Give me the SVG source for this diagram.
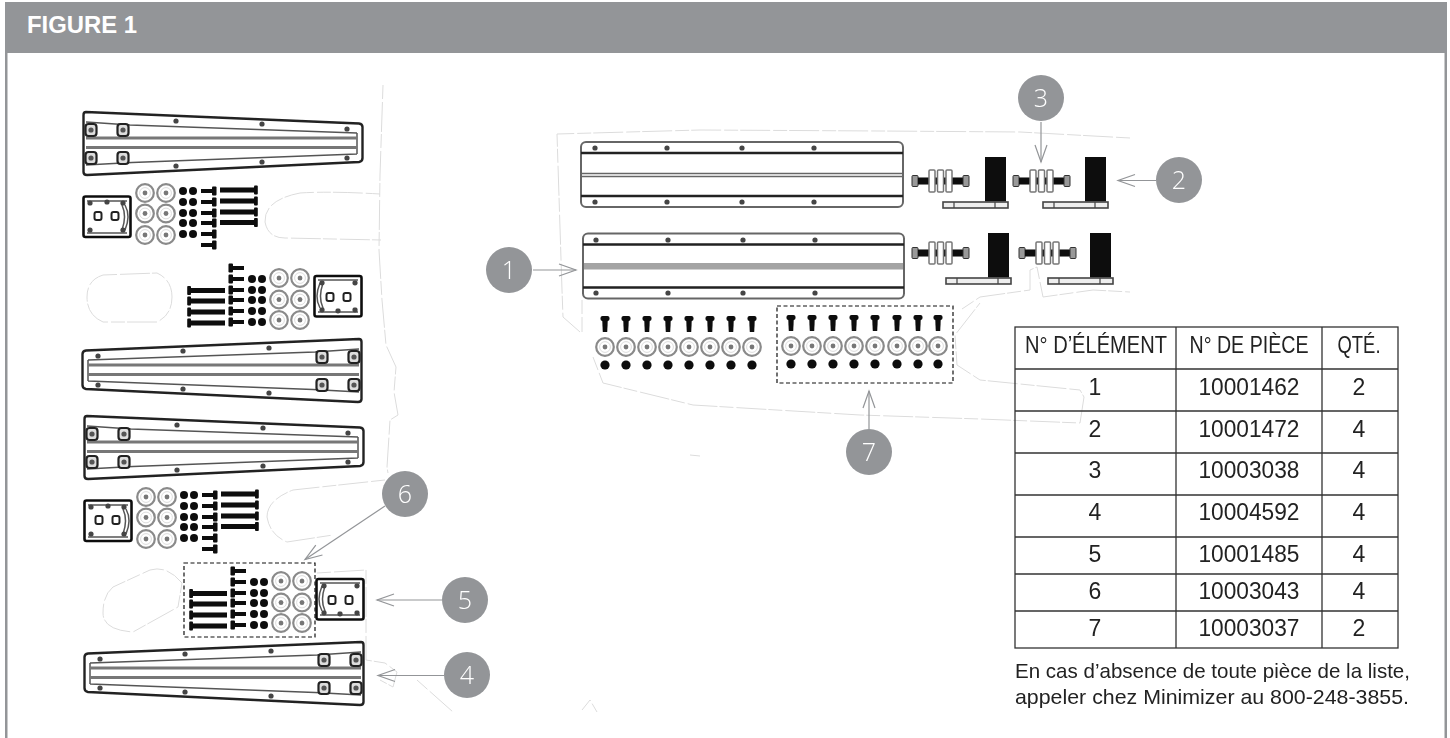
<svg xmlns="http://www.w3.org/2000/svg" width="1450" height="738" viewBox="0 0 1450 738">
<style>
text{font-family:"Liberation Sans",Arial,sans-serif}
.ghost{fill:none;stroke:#dcdcdc;stroke-width:1;stroke-dasharray:14 3 30 2}
.md{fill:none;stroke:#555;stroke-width:1.500}
.blk{fill:#0c0c0c}
.grid{fill:none;stroke:#333;stroke-width:1.300}
.cell{font-size:23px;fill:#222;text-anchor:middle}
.num{font-size:25px;fill:#fff;text-anchor:middle;font-family:"Open Sans","Liberation Sans",sans-serif;font-weight:300}
.bub{fill:#939598}
.arrow{fill:none;stroke:#939598;stroke-width:1.200;marker-end:url(#vee)}
.dash{fill:none;stroke:#111;stroke-width:1.200;stroke-dasharray:4 2.500}
.note{font-size:21px;fill:#222}
</style>
<defs>
<filter id="soft" x="-5%" y="-5%" width="110%" height="110%"><feGaussianBlur stdDeviation="0.6"/></filter>
<marker id="vee" markerUnits="userSpaceOnUse" markerWidth="20" markerHeight="16" refX="18" refY="7" orient="auto"><path d="M1,1 L18,7 L1,13" fill="none" stroke="#939598" stroke-width="1.200"/></marker>
<g id="sq"><rect x="-5.500" y="-6" width="11" height="12" rx="3" fill="#ddd" stroke="#222" stroke-width="2.200"/><circle r="2.600" fill="#555"/></g>
<circle id="scr" r="2.600" fill="#444"/>
<g id="taper">
<path d="M86,112 L359,123.500 Q362.500,124 362.500,127 L362.500,158 Q362.500,161.500 359,162 L87,175 Q83.500,175 83.500,172 L83.500,115 Q83.500,112 86,112 Z" fill="#fff" stroke="#222" stroke-width="2.400"/>
<path class="md" d="M130,125 L357,133 M132,162.500 L357,154 M86,122 L130,125 M86,165 L132,162.500 M357,133 V154"/>
<path d="M86,138 H357 M86,147.500 H357" fill="none" stroke="#777" stroke-width="2.800"/>
<use href="#sq" x="91" y="130"/><use href="#sq" x="123" y="130"/><use href="#sq" x="91" y="158"/><use href="#sq" x="123" y="158"/>
<use href="#scr" x="176" y="121"/><use href="#scr" x="262" y="124"/><use href="#scr" x="347" y="129"/>
<use href="#scr" x="176" y="166"/><use href="#scr" x="262" y="162"/><use href="#scr" x="347" y="158"/>
</g>
<g id="wsh"><circle r="8.800" fill="#fff" stroke="#8a8a8a" stroke-width="2.200"/><circle r="2.400" fill="#777"/><circle r="5.400" fill="none" stroke="#ddd" stroke-width="1"/></g>
<circle id="nut" r="4" class="blk"/>
<g id="sbolt"><rect x="0" y="-2" width="12" height="4" class="blk"/><rect x="11" y="-4.500" width="4.500" height="9" rx="1" class="blk"/></g>
<g id="lbolt"><rect x="0" y="-2.500" width="35" height="5" class="blk"/><rect x="34" y="-4.500" width="3.800" height="9" rx="1" class="blk"/></g>
<g id="kit">
<rect x="83.500" y="196.500" width="47" height="40.500" rx="2" fill="#fff" stroke="#111" stroke-width="2.600"/>
<path class="md" d="M87,201 H127 M87,233 H127"/>
<path class="md" d="M125,205 Q131,216 125,230 M122,205 Q127,216 122,230"/>
<rect x="94.500" y="212" width="7" height="8" rx="2" fill="#fff" stroke="#222" stroke-width="2"/>
<rect x="111.500" y="212" width="7" height="8" rx="2" fill="#fff" stroke="#222" stroke-width="2"/>
<use href="#scr" x="90" y="203"/><use href="#scr" x="107" y="202"/><use href="#scr" x="123" y="203"/><use href="#scr" x="90" y="230"/><use href="#scr" x="123" y="230"/>
<use href="#wsh" x="145" y="193"/><use href="#wsh" x="166" y="193"/><use href="#wsh" x="145" y="213.500"/><use href="#wsh" x="166" y="213.500"/><use href="#wsh" x="145" y="235"/><use href="#wsh" x="166" y="235"/>
<use href="#nut" x="183" y="191"/><use href="#nut" x="193" y="191"/><use href="#nut" x="183" y="202"/><use href="#nut" x="193" y="202"/><use href="#nut" x="183" y="213"/><use href="#nut" x="193" y="213"/><use href="#nut" x="183" y="223"/><use href="#nut" x="193" y="223"/><use href="#nut" x="183" y="234"/><use href="#nut" x="193" y="234"/>
<use href="#sbolt" x="201" y="191"/><use href="#sbolt" x="201" y="202"/><use href="#sbolt" x="201" y="213"/><use href="#sbolt" x="201" y="223"/><use href="#sbolt" x="201" y="234"/><use href="#sbolt" x="201" y="245"/>
<use href="#lbolt" x="220" y="190"/><use href="#lbolt" x="220" y="201"/><use href="#lbolt" x="220" y="212"/><use href="#lbolt" x="220" y="222.500"/>
</g>
<g id="iso">
<rect x="0" y="-5.500" width="6" height="11" rx="1" fill="#999" stroke="#333"/>
<rect x="6" y="-3.500" width="45" height="7" class="blk"/>
<rect x="51" y="-5.500" width="6" height="11" rx="1" fill="#999" stroke="#333"/>
<rect x="17" y="-11" width="6" height="22" rx="1" fill="#fff" stroke="#777" stroke-width="1.500"/>
<rect x="25.500" y="-11" width="6" height="22" rx="1" fill="#fff" stroke="#777" stroke-width="1.500"/>
<rect x="34" y="-11" width="6" height="22" rx="1" fill="#fff" stroke="#777" stroke-width="1.500"/>
</g>
<g id="angle">
<rect x="42" y="0" width="21" height="44.500" class="blk"/>
<rect x="0" y="45" width="65" height="6" fill="#eee" stroke="#444" stroke-width="1.600"/>
<path d="M11,45 V51 M52,45 V51" stroke="#444" stroke-width="1.200"/>
</g>
<g id="fast">
<rect x="-4.500" y="-8" width="9" height="5" rx="2" class="blk"/>
<path d="M-2.800,-4 H2.800 L2.200,8 H-2.200 Z" class="blk"/>
<use href="#wsh" y="23"/>
<circle cy="41" r="4.600" class="blk"/>
</g>
</defs>

<g id="frame">
<rect x="5" y="2" width="1442" height="51" fill="#939598"/>
<rect x="5" y="53" width="2.500" height="685" fill="#939598"/>
<rect x="1444.500" y="53" width="2.500" height="685" fill="#939598"/>
<text x="27" y="33" font-size="23" font-weight="700" fill="#fff" textLength="110" lengthAdjust="spacingAndGlyphs">FIGURE 1</text>
</g>

<g id="ghost-lines" filter="url(#soft)">
<path class="ghost" d="M383,85 L380,175 L379,250 L382,300 L386,345 L396,367 L394,392 L398,415 L390,420 L387,467 L388,473"/>
<path class="ghost" d="M380,194 Q330,191 300,193 Q264,200 265,222 Q268,238 285,238 L381,240"/>
<path class="ghost" d="M103,275 L157,273 Q172,280 172,297 Q172,315 157,322 L103,322 Q87,315 87,297 Q87,280 103,275 Z"/>
<path class="ghost" d="M385,480 L293,490 Q267,500 267,517 Q270,535 287,542 L333,535"/>
<path class="ghost" d="M150,570 Q167,565 182,583 L178,607 L133,632 Q103,630 103,613 Q103,595 113,587 Z"/>
<path class="ghost" d="M317,573 L366,570 V660 L385,663 L397,672 L393,687 L380,680 M417,680 L453,712"/>
<path class="ghost" d="M582,710 L590,700 L597,712 M690,455 L700,456"/>
<path class="ghost" d="M1130,138 L1020,132 L880,131 L700,130 L557,134 L562,290 L563,317 L580,332 M582,300 V332 M593,357 L603,383 L693,405 L860,415 L980,419 L1080,423 L1084,397 L1080,390 L980,380 L957,365 L955,335 L980,303"/>
<path class="ghost" d="M962,309 L980,297 L1030,290 V270 L1037,267 L1043,297 L1093,290 L1130,292"/>
</g>

<g id="left-parts" filter="url(#soft)">
<use href="#taper"/>
<use href="#kit"/>
<use href="#taper" transform="translate(445,227) scale(-1,1)"/>
<use href="#kit" transform="translate(445,513) scale(-1,-1)"/>
<use href="#taper" transform="translate(1,304)"/>
<use href="#kit" transform="translate(1,304)"/>
<use href="#taper" transform="translate(447,530) scale(-1,1)"/>
<use href="#kit" transform="translate(447,816) scale(-1,-1)"/>
</g>

<g id="right-parts" filter="url(#soft)">
<g id="rail-a">
<rect x="581" y="142" width="322" height="65" rx="5" fill="#fff" stroke="#666" stroke-width="2"/>
<path d="M581,153 H903 M581,196 H903" stroke="#222" stroke-width="2.400"/>
<path d="M581,173.500 H903 M581,176.500 H903" stroke="#666" stroke-width="1.500"/>
<use href="#scr" x="595" y="148"/><use href="#scr" x="667" y="148"/><use href="#scr" x="742" y="148"/><use href="#scr" x="814" y="148"/>
<use href="#scr" x="595" y="202"/><use href="#scr" x="667" y="202"/><use href="#scr" x="742" y="202"/><use href="#scr" x="814" y="202"/>
</g>
<g id="rail-b">
<rect x="583" y="233.500" width="321" height="65" rx="5" fill="#fff" stroke="#666" stroke-width="2"/>
<path d="M583,244.500 H904 M583,287.500 H904" stroke="#222" stroke-width="2.400"/>
<rect x="584" y="263" width="319" height="6.500" fill="#a4a4a4"/>
<use href="#scr" x="596" y="240"/><use href="#scr" x="668" y="240"/><use href="#scr" x="743" y="240"/><use href="#scr" x="815" y="240"/>
<use href="#scr" x="596" y="293"/><use href="#scr" x="668" y="293"/><use href="#scr" x="743" y="293"/><use href="#scr" x="815" y="293"/>
</g>
<use href="#iso" x="912" y="181"/><use href="#angle" x="943" y="157"/>
<use href="#iso" x="1013" y="181"/><use href="#angle" x="1043" y="157"/>
<use href="#iso" x="912" y="253"/><use href="#angle" x="946" y="233"/>
<use href="#iso" x="1019" y="253"/><use href="#angle" x="1048" y="233"/>
<use href="#fast" x="605" y="324"/><use href="#fast" x="626" y="324"/><use href="#fast" x="647" y="324"/><use href="#fast" x="668" y="324"/><use href="#fast" x="689" y="324"/><use href="#fast" x="710" y="324"/><use href="#fast" x="731" y="324"/><use href="#fast" x="752" y="324"/>
<use href="#fast" x="791" y="323"/><use href="#fast" x="812" y="323"/><use href="#fast" x="833" y="323"/><use href="#fast" x="854" y="323"/><use href="#fast" x="875" y="323"/><use href="#fast" x="897" y="323"/><use href="#fast" x="918" y="323"/><use href="#fast" x="938" y="323"/>
</g>

<rect id="group-6" class="dash" x="184" y="563" width="131" height="74"/>
<rect id="group-7" class="dash" x="777" y="306" width="176" height="77"/>

<g id="connectors">
<path class="arrow" d="M533,270 H576"/>
<path class="arrow" d="M1156,180.500 H1118"/>
<path class="arrow" d="M1041,122 V162"/>
<path class="arrow" d="M444,675.500 H378"/>
<path class="arrow" d="M442,600 H377"/>
<path class="arrow" d="M385,506 L305,559.500"/>
<path class="arrow" d="M869,429 V391"/>
</g>

<g id="n1"><circle class="bub" cx="509" cy="270" r="23"/><text class="num" x="509" y="279">1</text></g>
<g id="n2"><circle class="bub" cx="1179" cy="180" r="23"/><text class="num" x="1179" y="189">2</text></g>
<g id="n3"><circle class="bub" cx="1041" cy="98" r="23"/><text class="num" x="1041" y="107">3</text></g>
<g id="n4"><circle class="bub" cx="467" cy="675" r="23"/><text class="num" x="467" y="684">4</text></g>
<g id="n5"><circle class="bub" cx="465" cy="600" r="23"/><text class="num" x="465" y="609">5</text></g>
<g id="n6"><circle class="bub" cx="405" cy="494" r="23"/><text class="num" x="405" y="503">6</text></g>
<g id="n7"><circle class="bub" cx="869" cy="452" r="23"/><text class="num" x="869" y="461">7</text></g>

<g id="parts-table">
<rect class="grid" x="1015" y="327" width="383" height="321"/>
<path class="grid" d="M1176,327 V648 M1322,327 V648 M1015,369 H1398 M1015,411 H1398 M1015,453 H1398 M1015,495 H1398 M1015,537 H1398 M1015,574 H1398 M1015,611 H1398"/>
<text class="cell" x="1096" y="353" textLength="142" lengthAdjust="spacingAndGlyphs">N° D’ÉLÉMENT</text>
<text class="cell" x="1249" y="353" textLength="119" lengthAdjust="spacingAndGlyphs">N° DE PIÈCE</text>
<text class="cell" x="1359" y="353" textLength="43" lengthAdjust="spacingAndGlyphs">QTÉ.</text>
<text class="cell" x="1095" y="395">1</text><text class="cell" x="1249" y="395" textLength="101" lengthAdjust="spacingAndGlyphs">10001462</text><text class="cell" x="1359" y="395">2</text>
<text class="cell" x="1095" y="437">2</text><text class="cell" x="1249" y="437" textLength="101" lengthAdjust="spacingAndGlyphs">10001472</text><text class="cell" x="1359" y="437">4</text>
<text class="cell" x="1095" y="478">3</text><text class="cell" x="1249" y="478" textLength="101" lengthAdjust="spacingAndGlyphs">10003038</text><text class="cell" x="1359" y="478">4</text>
<text class="cell" x="1095" y="520">4</text><text class="cell" x="1249" y="520" textLength="101" lengthAdjust="spacingAndGlyphs">10004592</text><text class="cell" x="1359" y="520">4</text>
<text class="cell" x="1095" y="562">5</text><text class="cell" x="1249" y="562" textLength="101" lengthAdjust="spacingAndGlyphs">10001485</text><text class="cell" x="1359" y="562">4</text>
<text class="cell" x="1095" y="599">6</text><text class="cell" x="1249" y="599" textLength="101" lengthAdjust="spacingAndGlyphs">10003043</text><text class="cell" x="1359" y="599">4</text>
<text class="cell" x="1095" y="636">7</text><text class="cell" x="1249" y="636" textLength="101" lengthAdjust="spacingAndGlyphs">10003037</text><text class="cell" x="1359" y="636">2</text>
</g>
<g id="note">
<text class="note" x="1015" y="678" textLength="395" lengthAdjust="spacingAndGlyphs">En cas d’absence de toute pièce de la liste,</text>
<text class="note" x="1015" y="704" textLength="394" lengthAdjust="spacingAndGlyphs">appeler chez Minimizer au 800-248-3855.</text>
</g>
</svg>
